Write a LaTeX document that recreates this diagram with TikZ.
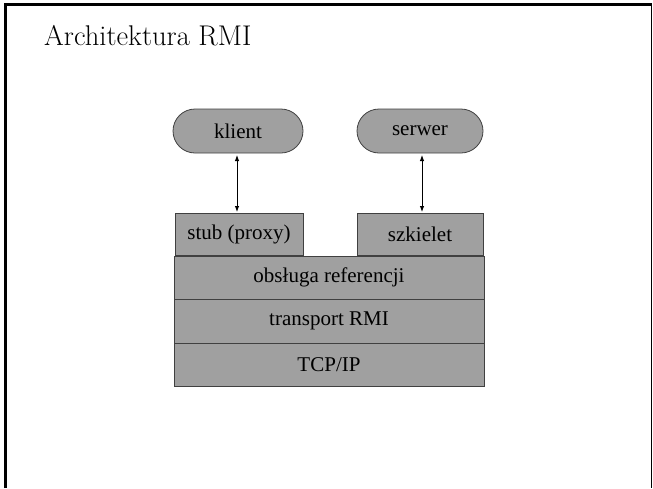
\documentclass[tikz,border=0pt]{standalone}
\usepackage{fontspec}
\newfontfamily\layerfont{Liberation Serif}
\usetikzlibrary{shapes.misc,arrows.meta}
\definecolor{layergray}{HTML}{A0A0A0}
\definecolor{edgegray}{HTML}{404040}
\tikzset{
    layer/.style={draw=edgegray, fill=layergray, line width=0.8pt,
        inner sep=0pt, minimum height=43pt,
        font=\layerfont\fontsize{21}{24}\selectfont},
    proc/.style={layer, rounded rectangle, minimum height=44pt},
    link/.style={{Latex[length=6pt,width=4.5pt]}-{Latex[length=6pt,width=4.5pt]}, line width=0.9pt}
}
\begin{document}
\begin{tikzpicture}[x=1pt, y=-1pt]
    \useasboundingbox (0,0) rectangle (653,488);
    \draw[line width=2.5pt] (5.3,488) -- (5.3,4.5) -- (651.5,4.5);
    \draw[line width=1.4pt] (651.5,4.5) -- (651.5,488);

    \node (title) at (44,45) [anchor=base west, inner sep=0pt, font=\fontsize{28.5}{32}\selectfont] {Architektura RMI};

    % procesy
    \node (klient) at (238,131) [proc, minimum width=130pt] {klient};
    \node (serwer) at (420,131) [proc, minimum width=126pt] {serwer};

    % warstwy
    \node (stub) at (239,234) [layer, minimum width=128pt, minimum height=42pt] {stub (proxy)};
    \node (szkielet) at (420,234) [layer, minimum width=126pt, minimum height=42pt] {szkielet};
    \node (ref) at (329,277.5) [layer, minimum width=310pt] {obsługa referencji};
    \node (transport) at (329,321) [layer, minimum width=310pt, minimum height=44pt] {transport RMI};
    \node (tcp) at (329,364.5) [layer, minimum width=310pt] {TCP/IP};

    \coordinate (kTop) at (237,155);
    \coordinate (kBot) at (237,212);
    \coordinate (sTop) at (422,155);
    \coordinate (sBot) at (422,212);
    \draw[link] (kTop) -- (kBot);
    \draw[link] (sTop) -- (sBot);
\end{tikzpicture}
\end{document}
